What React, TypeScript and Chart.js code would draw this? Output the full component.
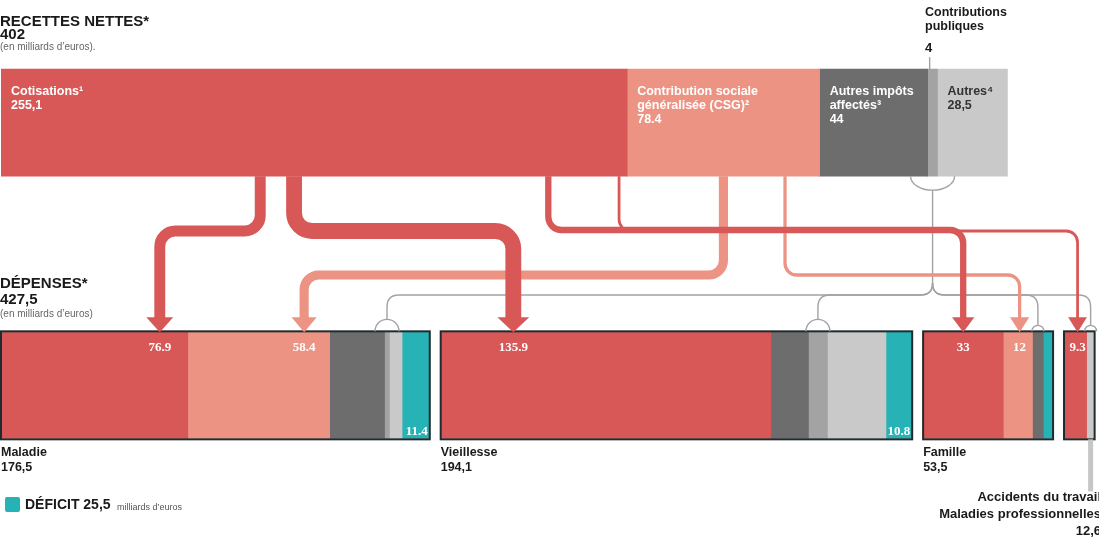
import React, { useEffect, useRef } from 'react';
import { Chart, registerables } from 'chart.js';

Chart.register(...registerables);

// ---------------- data ----------------
const rowLabels = ['Recettes', 'Flux', 'Dépenses'];

const recettesNames = ['Cotisations', 'Contribution sociale généralisée (CSG)', 'Autres impôts affectés', 'Contributions publiques', 'Autres'];
const recettesValues = [255.1, 78.4, 44, 4, 28.5];
const recettesValueLabels = ['255,1', '78.4', '44', '4', '28,5'];
const recettesLabelLines = [['Cotisations¹'], ['Contribution sociale', 'généralisée (CSG)²'], ['Autres impôts', 'affectés³'], [], ['Autres⁴']];
const recettesTotalLabel = '402';

const branchNames = ['Maladie', 'Vieillesse', 'Famille', 'Accidents du travail - Maladies professionnelles'];
const branchNameLines = [['Maladie'], ['Vieillesse'], ['Famille'], ['Accidents du travail', 'Maladies professionnelles']];
const branchTotals = [176.5, 194.1, 53.5, 12.6];
const depensesTotalLabel = '427,5';

const cotisationsParBranche = [76.9, 135.9, 33, 9.3];
const csgParBranche = [58.4, 0, 12, 0];
const impotsParBranche = [22.6, 15.5, 4.5, 0];
const contribPubParBranche = [2.0, 7.8, 0, 0];
const autresParBranche = [5.2, 24.1, 0, 3.3];
const deficitParBranche = [11.4, 10.8, 4.0, 0];
const deficitTotalLabel = '25,5';

// ---------------- styles / layout ----------------
const FONT = '"Liberation Sans", Arial, Helvetica, sans-serif';
const SERIF = '"Liberation Serif", "DejaVu Serif", serif';
const COLORS = ['#d85757', '#ec9383', '#6d6d6d', '#a3a3a3', '#c9c9c9', '#27b3b6'];
const OUTLINE = '#1f2b2f';
const GRAY_LINE = '#a2a2a2';
const TOP_THICK = 107;
const BOT_THICK = 106;
const GAP = 4.5;
const X_MAX = 452;
const XTOP_MAX = 447.3;

const flowRoutes = [
  { source: 1, branch: 2, srcFrac: 0.82, dstFrac: 0.56, level: 275 },
  { source: 1, branch: 0, srcFrac: 0.5, dstFrac: 0.82, level: 275 },
  { source: 0, branch: 3, srcFrac: 0.987, dstFrac: 0.6, level: 231 },
  { source: 0, branch: 2, srcFrac: 0.874, dstFrac: 0.5, level: 230 },
  { source: 0, branch: 0, srcFrac: 0.414, dstFrac: 0.85, level: 231 },
  { source: 0, branch: 1, srcFrac: 0.468, dstFrac: 0.22, level: 231 },
];
const grayTargets = [
  { branch: 0, comp: 3, r: 12 },
  { branch: 1, comp: 3, r: 12 },
  { branch: 2, comp: 2, r: 6 },
  { branch: 3, comp: 4, r: 6 },
];
const GRAY_SPLIT = 283;
const GRAY_LEVEL = 295;

// ---------------- derived ----------------
function cumulate(vals: number[], start = 0): number[][] {
  let s = start;
  return vals.map((v) => {
    const a = s;
    s += v;
    return [a, s];
  });
}
const topSegs = cumulate(recettesValues);
const branchComps = branchTotals.map((_, b) => [
  cotisationsParBranche[b],
  csgParBranche[b],
  impotsParBranche[b],
  contribPubParBranche[b],
  autresParBranche[b],
  deficitParBranche[b],
]);
const compNames = ['Cotisations', 'CSG', 'Autres impôts affectés', 'Contributions publiques', 'Autres', 'Déficit'];
const branchStarts: number[] = [];
{
  let acc = 0;
  branchTotals.forEach((t) => {
    branchStarts.push(acc);
    acc += t + GAP;
  });
}
const branchSegs = branchComps.map((comps, b) => cumulate(comps, branchStarts[b]));

const fmt = (v: number) => v.toFixed(1);

const flowPlugin = {
  id: 'flows',
  afterDatasetsDraw(chart: any) {
    const ctx = chart.ctx as CanvasRenderingContext2D;
    const x = chart.scales.x;
    const xt = chart.scales.xTop;
    const y = chart.scales.y;
    const topC = y.getPixelForValue(0);
    const botC = y.getPixelForValue(2);
    const topTop = topC - TOP_THICK / 2;
    const topBottom = topC + TOP_THICK / 2;
    const barTop = botC - BOT_THICK / 2 - 1;
    const barBottom = botC + BOT_THICK / 2 + 1;
    const px = (v: number) => x.getPixelForValue(v);
    const pt = (v: number) => xt.getPixelForValue(v);

    ctx.save();

    // outlines around each branch
    ctx.strokeStyle = OUTLINE;
    ctx.lineWidth = 2;
    branchTotals.forEach((t, b) => {
      const x0 = px(branchStarts[b]);
      const x1 = px(branchStarts[b] + t);
      ctx.strokeRect(x0, barTop, x1 - x0, barBottom - barTop);
    });

    // leader for last branch label
    {
      const b = branchTotals.length - 1;
      const segs = branchSegs[b];
      let k = segs.length - 1;
      while (k > 0 && branchComps[b][k] <= 0) k--;
      const cx = (px(segs[k][0]) + px(segs[k][1])) / 2;
      ctx.fillStyle = '#c6c6c6';
      ctx.fillRect(cx - 2.5, barBottom, 5, 52);
    }

    // gray connectors (contributions publiques)
    ctx.strokeStyle = GRAY_LINE;
    ctx.lineWidth = 1.4;
    const cpSeg = topSegs[3];
    const cx = (pt(cpSeg[0]) + pt(cpSeg[1])) / 2;
    ctx.beginPath();
    ctx.ellipse(cx, topBottom, 22, 14, 0, 0, Math.PI);
    ctx.stroke();
    ctx.beginPath();
    ctx.moveTo(cx, topBottom + 14);
    ctx.lineTo(cx, GRAY_SPLIT);
    ctx.stroke();
    // little line from the label to the segment
    ctx.beginPath();
    ctx.moveTo(pt(cpSeg[0]) + 2, topTop - 12);
    ctx.lineTo(pt(cpSeg[0]) + 2, topTop);
    ctx.stroke();
    const R = 12;
    grayTargets.forEach((g) => {
      const seg = branchSegs[g.branch][g.comp];
      const tx = (px(seg[0]) + px(seg[1])) / 2;
      const dir = tx < cx ? -1 : 1;
      ctx.beginPath();
      ctx.moveTo(cx, GRAY_SPLIT);
      ctx.quadraticCurveTo(cx, GRAY_LEVEL, cx + dir * R, GRAY_LEVEL);
      ctx.lineTo(tx - dir * R, GRAY_LEVEL);
      ctx.quadraticCurveTo(tx, GRAY_LEVEL, tx, GRAY_LEVEL + R);
      ctx.lineTo(tx, barTop - g.r);
      ctx.stroke();
      ctx.beginPath();
      ctx.arc(tx, barTop, g.r, Math.PI, 2 * Math.PI);
      ctx.stroke();
    });

    // flows (arrows)
    const targetXs: number[][] = branchTotals.map(() => [NaN, NaN]);
    flowRoutes.forEach((f) => {
      const value = f.source === 0 ? cotisationsParBranche[f.branch] : csgParBranche[f.branch];
      if (!value) return;
      const src = topSegs[f.source];
      const sx = pt(src[0]) + (pt(src[1]) - pt(src[0])) * f.srcFrac;
      const dst = branchSegs[f.branch][f.source];
      const tx = px(dst[0]) + (px(dst[1]) - px(dst[0])) * f.dstFrac;
      targetXs[f.branch][f.source] = tx;
      const t = 0.65 * Math.pow(value, 0.65);
      const hw = 16 + t;
      const headBase = barTop - 14;
      const color = COLORS[f.source];
      const r = 10 + t / 2;
      ctx.strokeStyle = color;
      ctx.fillStyle = color;
      ctx.lineWidth = t;
      ctx.lineCap = 'butt';
      ctx.lineJoin = 'round';
      ctx.beginPath();
      ctx.moveTo(sx, topBottom);
      ctx.arcTo(sx, f.level, tx, f.level, r);
      ctx.arcTo(tx, f.level, tx, headBase, r);
      ctx.lineTo(tx, headBase + 1);
      ctx.stroke();
      ctx.beginPath();
      ctx.moveTo(tx - hw / 2, headBase);
      ctx.lineTo(tx + hw / 2, headBase);
      ctx.lineTo(tx, barTop + 1);
      ctx.closePath();
      ctx.fill();
    });

    // labels in the top bar
    ctx.textBaseline = 'alphabetic';
    ctx.textAlign = 'left';
    ctx.font = `bold 12.5px ${FONT}`;
    topSegs.forEach((seg, i) => {
      if (!recettesLabelLines[i].length) return;
      const lines = [...recettesLabelLines[i], recettesValueLabels[i]];
      const x0 = pt(seg[0]) + 10;
      ctx.fillStyle = i === 4 ? '#333333' : '#ffffff';
      lines.forEach((ln, k) => ctx.fillText(ln, x0, topTop + 26 + k * 14));
    });

    // value labels in bottom bars
    ctx.font = `bold 13px ${SERIF}`;
    ctx.fillStyle = '#ffffff';
    ctx.textAlign = 'center';
    targetXs.forEach((arr, b) => {
      arr.forEach((tx, s) => {
        if (isNaN(tx)) return;
        const v = s === 0 ? cotisationsParBranche[b] : csgParBranche[b];
        const txt = Number.isInteger(v) ? String(v) : fmt(v);
        ctx.fillText(txt, tx, barTop + 20);
      });
    });
    ctx.textAlign = 'right';
    deficitParBranche.forEach((d, b) => {
      if (d < 8) return;
      const seg = branchSegs[b][5];
      ctx.fillText(fmt(d), px(seg[1]) - 2, barBottom - 4);
    });

    // branch names and totals
    ctx.fillStyle = '#1a1a1a';
    branchTotals.forEach((t, b) => {
      const lines = [...branchNameLines[b], t.toFixed(1).replace('.', ',')];
      if (b === branchTotals.length - 1) {
        ctx.textAlign = 'right';
        ctx.font = `bold 13px ${FONT}`;
        const xr = chart.width + 2;
        lines.forEach((ln, k) => ctx.fillText(ln, xr, barBottom + 62 + k * 17));
      } else {
        ctx.textAlign = 'left';
        ctx.font = `bold 12.5px ${FONT}`;
        const x0 = px(branchStarts[b]);
        lines.forEach((ln, k) => ctx.fillText(ln, x0, barBottom + 17 + k * 15));
      }
    });

    ctx.restore();
  },
};

const txt = (style: React.CSSProperties, content: React.ReactNode) => (
  <div style={{ position: 'absolute', whiteSpace: 'nowrap', lineHeight: 1, fontFamily: FONT, color: '#1a1a1a', ...style }}>{content}</div>
);

export default function App() {
  const canvasRef = useRef<HTMLCanvasElement | null>(null);

  useEffect(() => {
    if (!canvasRef.current) return;
    const datasets: any[] = [];
    topSegs.forEach((seg, i) => {
      datasets.push({
        label: recettesNames[i],
        data: [seg, null, null],
        backgroundColor: COLORS[i],
        xAxisID: 'xTop',
        barThickness: TOP_THICK,
        grouped: false,
        borderWidth: 0,
      });
    });
    branchSegs.forEach((segs, b) => {
      segs.forEach((seg, c) => {
        if (branchComps[b][c] <= 0) return;
        datasets.push({
          label: `${branchNames[b]} – ${compNames[c]}`,
          data: [null, null, seg],
          backgroundColor: COLORS[c],
          xAxisID: 'x',
          barThickness: BOT_THICK,
          grouped: false,
          borderWidth: 0,
        });
      });
    });
    const chart = new Chart(canvasRef.current, {
      type: 'bar',
      data: { labels: rowLabels, datasets },
      options: {
        indexAxis: 'y',
        responsive: true,
        maintainAspectRatio: false,
        animation: false,
        layout: { padding: { left: 1, right: 0, top: 57, bottom: 87 } },
        plugins: { legend: { display: false }, tooltip: { enabled: false } },
        scales: {
          y: { type: 'category', display: false, grid: { display: false } },
          x: { type: 'linear', min: 0, max: X_MAX, display: false, grid: { display: false } },
          xTop: { type: 'linear', axis: 'x', position: 'top', min: 0, max: XTOP_MAX, display: false, grid: { display: false } },
        },
      } as any,
      plugins: [flowPlugin],
    });
    return () => chart.destroy();
  }, []);

  return (
    <div style={{ position: 'absolute', left: 0, top: 0, width: 1099, height: 538, overflow: 'hidden', background: '#ffffff' }}>
      <canvas ref={canvasRef} style={{ position: 'absolute', left: 0, top: 0, width: 1099, height: 538 }} />
      {txt({ left: 0, top: 13, fontSize: 15, fontWeight: 700 }, 'RECETTES NETTES*')}
      {txt({ left: 0, top: 26, fontSize: 15, fontWeight: 700 }, recettesTotalLabel)}
      {txt({ left: 0, top: 42, fontSize: 10, color: '#666' }, '(en milliards d\u2019euros).')}
      {txt({ left: 925, top: 5.5, fontSize: 12.5, fontWeight: 700 }, 'Contributions')}
      {txt({ left: 925, top: 20, fontSize: 12.5, fontWeight: 700 }, 'publiques')}
      {txt({ left: 925, top: 41, fontSize: 13, fontWeight: 700 }, recettesValueLabels[3])}
      {txt({ left: 0, top: 275, fontSize: 15, fontWeight: 700 }, 'DÉPENSES*')}
      {txt({ left: 0, top: 291, fontSize: 15, fontWeight: 700 }, depensesTotalLabel)}
      {txt({ left: 0, top: 309, fontSize: 10, color: '#666' }, '(en milliards d\u2019euros)')}
      <div style={{ position: 'absolute', left: 5, top: 497, width: 15, height: 15, borderRadius: 2, background: COLORS[5] }} />
      {txt({ left: 25, top: 497, fontSize: 14, fontWeight: 700 }, `DÉFICIT ${deficitTotalLabel}`)}
      {txt({ left: 117, top: 502.5, fontSize: 9, color: '#555' }, 'milliards d\u2019euros')}
    </div>
  );
}
